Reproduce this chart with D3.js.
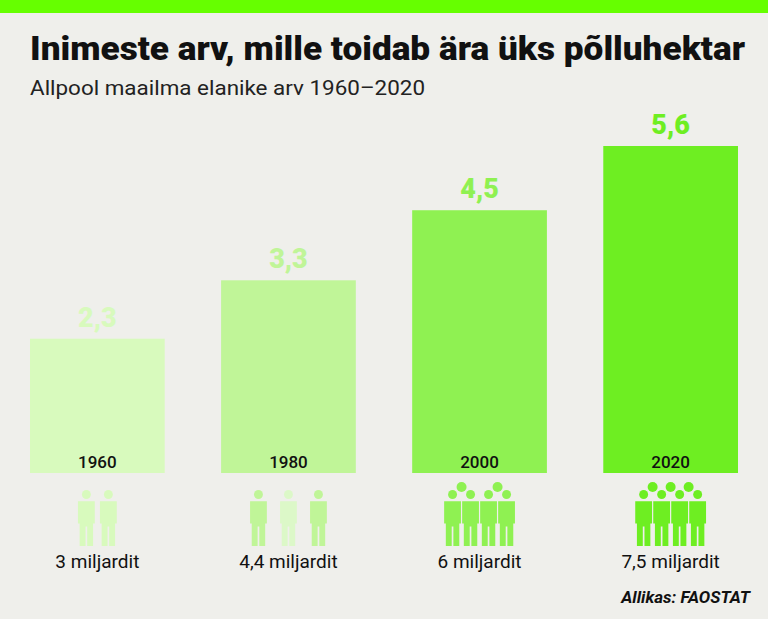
<!DOCTYPE html><html><head><meta charset="utf-8"><script src="https://cdn.jsdelivr.net/npm/d3@7"></script>
<style>body{margin:0;background:#efefeb}</style></head><body><svg id="c" width="768" height="619"></svg>
<script>
const years=["1960","1980","2000","2020"];
const values=[2.3,3.3,4.5,5.6];
const valueLabels=["2,3","3,3","4,5","5,6"];
const popLabels=["3 miljardit","4,4 miljardit","6 miljardit","7,5 miljardit"];
const colors=["#d8fabd","#c0f598","#8ff152","#6eee22"];
const iconFront=[2,3,4,4];
const iconBack=[0,0,2,3];
const svg=d3.select("#c");
svg.append("rect").attr("width",768).attr("height",619).attr("fill","#efefeb");
svg.append("rect").attr("width",768).attr("height",13).attr("fill","#66ff00");
svg.append("text").attr("x",30).attr("y",60).attr("font-family","Roboto").attr("font-weight",900).attr("font-size",33).attr("textLength",715).attr("lengthAdjust","spacingAndGlyphs").attr("fill","#111").text("Inimeste arv, mille toidab ära üks põlluhektar");
svg.append("text").attr("x",30).attr("y",95).attr("font-family","Roboto").attr("font-size",21).attr("textLength",395).attr("lengthAdjust","spacingAndGlyphs").attr("fill","#222").text("Allpool maailma elanike arv 1960–2020");
const x=d3.scaleBand().domain(years).range([30,738]).paddingInner(0.295).paddingOuter(0);
const y=d3.scaleLinear().domain([0,5.6]).range([473,146]);
const g=svg.selectAll("g.b").data(years).join("g").attr("class","b");
g.append("rect").attr("x",d=>x(d)).attr("width",x.bandwidth()).attr("y",(d,i)=>y(values[i])).attr("height",(d,i)=>y(0)-y(values[i])).attr("fill",(d,i)=>colors[i]);
g.append("text").attr("x",d=>x(d)+x.bandwidth()/2).attr("y",(d,i)=>y(values[i])-12).attr("text-anchor","middle").attr("font-family","Roboto").attr("font-weight",900).attr("font-size",27).attr("fill",(d,i)=>colors[i]).text((d,i)=>valueLabels[i]);
g.append("text").attr("x",d=>x(d)+x.bandwidth()/2).attr("y",468).attr("text-anchor","middle").attr("font-family","Roboto").attr("font-weight",500).attr("font-size",17).attr("fill","#111").text(d=>d);
g.append("text").attr("x",d=>x(d)+x.bandwidth()/2).attr("y",568).attr("text-anchor","middle").attr("font-family","Roboto").attr("font-size",19).attr("fill","#111").text((d,i)=>popLabels[i]);
function person(sel,cx,top,h,col){
  const w=h*0.3;
  sel.append("circle").attr("cx",cx).attr("cy",top+h*0.08).attr("r",h*0.08).attr("fill",col);
  sel.append("path").attr("fill",col).attr("d",`M${cx-w/2},${top+h*0.2}h${w}v${h*0.4}h${-w*0.1}v${h*0.4}h${-w*0.35}v${-h*0.35}h${-w*0.1}v${h*0.35}h${-w*0.35}v${-h*0.4}h${-w*0.1}z`);
}
years.forEach((d,i)=>{
  const cx=x(d)+x.bandwidth()/2, n=iconFront[i], sp=18;
  const gi=svg.append("g");
  for(let k=0;k<iconBack[i];k++){const bx=cx+(k-(iconBack[i]-1)/2)*sp*(iconBack[i]==2?2:1);
    gi.append("circle").attr("cx",bx).attr("cy",487).attr("r",5).attr("fill",colors[i]);}
  for(let k=0;k<n;k++){
    const px=cx+(k-(n-1)/2)*(n==2?22:(n==3?30:sp));
    const col=(i==1&&k==1)?"#dcf8c8":colors[i];
    person(gi,px,490,56,col);
  }
});
svg.append("text").attr("x",750).attr("y",603).attr("text-anchor","end").attr("font-family","Roboto").attr("font-style","italic").attr("font-weight",700).attr("font-size",17).attr("fill","#111").text("Allikas: FAOSTAT");
</script></body></html>
